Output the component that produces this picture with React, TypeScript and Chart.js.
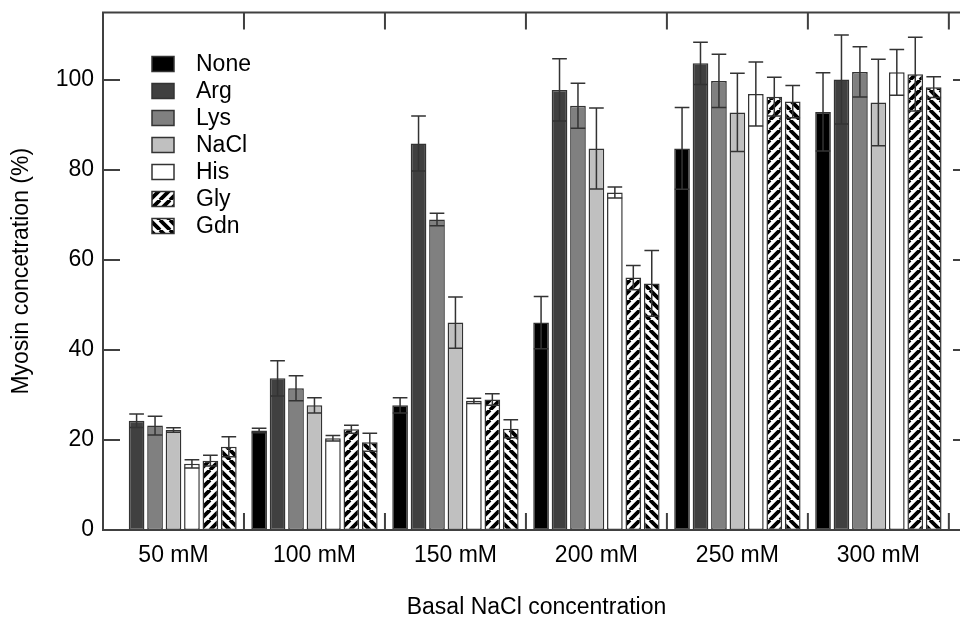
import React, { useEffect, useRef } from 'react';
import { Chart, registerables } from 'chart.js';

Chart.register(...registerables);

const categories = ['50 mM', '100 mM', '150 mM', '200 mM', '250 mM', '300 mM'];
const seriesLabels = ['None', 'Arg', 'Lys', 'NaCl', 'His', 'Gly', 'Gdn'];

const noneVals = [null, 22.1, 27.7, 46.1, 84.8, 92.9];
const noneErr = [null, 0.5, 1.7, 5.8, 9.1, 8.7];
const argVals = [24.3, 33.7, 85.9, 97.8, 103.7, 100.1];
const argErr = [1.5, 3.9, 6.1, 6.9, 4.7, 9.9];
const lysVals = [23.2, 31.5, 69.0, 94.3, 99.8, 101.8];
const lysErr = [2.1, 2.8, 1.4, 5.0, 5.9, 5.6];
const naclVals = [22.2, 27.7, 46.1, 84.8, 92.8, 95.0];
const naclErr = [0.5, 1.7, 5.7, 9.0, 8.7, 9.6];
const hisVals = [14.7, 20.4, 28.7, 75.0, 96.9, 101.7];
const hisErr = [0.9, 0.6, 0.6, 1.2, 7.1, 5.1];
const glyVals = [15.4, 22.4, 29.0, 56.1, 96.3, 101.3];
const glyErr = [1.2, 0.9, 1.3, 2.7, 4.3, 8.2];
const gdnVals = [18.5, 19.5, 22.5, 54.8, 95.2, 98.4];
const gdnErr = [2.2, 2.0, 2.0, 7.3, 3.6, 2.3];

const allVals = [noneVals, argVals, lysVals, naclVals, hisVals, glyVals, gdnVals];
const allErrs = [noneErr, argErr, lysErr, naclErr, hisErr, glyErr, gdnErr];

const yTicks = [0, 20, 40, 60, 80, 100];
const yMax = 115;

const FONT_FAMILY = '"Liberation Sans", Arial, Helvetica, sans-serif';
const LINE_COLOR = '#404040';

function makeHatch(forward: boolean): CanvasPattern | string {
  const s = 10;
  const c = document.createElement('canvas');
  c.width = s;
  c.height = s;
  const g = c.getContext('2d');
  if (!g) return '#888';
  g.fillStyle = '#ffffff';
  g.fillRect(0, 0, s, s);
  g.strokeStyle = '#000000';
  g.lineWidth = 3.8;
  g.beginPath();
  for (const x0 of [-s, 0, s]) {
    if (forward) {
      g.moveTo(x0, s);
      g.lineTo(x0 + s, 0);
    } else {
      g.moveTo(x0, 0);
      g.lineTo(x0 + s, s);
    }
  }
  g.stroke();
  const p = g.createPattern(c, 'repeat');
  return p || '#888';
}

const errorBarPlugin = {
  id: 'errorBars',
  afterDatasetsDraw(chart: any) {
    const ctx = chart.ctx;
    const yScale = chart.scales.y;
    ctx.save();
    ctx.strokeStyle = '#333333';
    ctx.lineWidth = 1.5;
    chart.data.datasets.forEach((ds: any, di: number) => {
      const meta = chart.getDatasetMeta(di);
      const errs = allErrs[di];
      meta.data.forEach((el: any, j: number) => {
        const v = allVals[di][j];
        const e = errs[j];
        if (v == null || e == null) return;
        const { x, width } = el.getProps(['x', 'width'], true);
        const yHi = yScale.getPixelForValue(v + e);
        const yLo = yScale.getPixelForValue(v - e);
        const half = width / 2 - 0.5;
        ctx.beginPath();
        ctx.moveTo(x, yHi);
        ctx.lineTo(x, yLo);
        ctx.moveTo(x - half, yHi);
        ctx.lineTo(x + half, yHi);
        ctx.moveTo(x - half, yLo);
        ctx.lineTo(x + half, yLo);
        ctx.stroke();
      });
    });
    ctx.restore();
  },
};

const framePlugin = {
  id: 'frame',
  afterDraw(chart: any) {
    const { ctx, chartArea } = chart;
    const { left, right, top, bottom } = chartArea;
    const xs = chart.scales.x;
    const ys = chart.scales.y;
    const tick = 17;
    ctx.save();
    ctx.strokeStyle = LINE_COLOR;
    ctx.lineWidth = 2;
    ctx.beginPath();
    ctx.moveTo(left, top);
    ctx.lineTo(right, top);
    ctx.lineTo(right, bottom);
    ctx.lineTo(left, bottom);
    ctx.closePath();
    ctx.stroke();
    ctx.beginPath();
    yTicks.forEach((v) => {
      const y = ys.getPixelForValue(v);
      ctx.moveTo(left, y);
      ctx.lineTo(left + tick, y);
      ctx.moveTo(right - tick, y);
      ctx.lineTo(right, y);
    });
    categories.forEach((_, i) => {
      const x = xs.getPixelForValue(i + 0.5);
      ctx.moveTo(x, top);
      ctx.lineTo(x, top + tick);
      ctx.moveTo(x, bottom - tick);
      ctx.lineTo(x, bottom);
    });
    ctx.stroke();

    // legend
    const lx = 152;
    const ly0 = 64;
    const step = 27;
    ctx.font = `23px ${FONT_FAMILY}`;
    ctx.textBaseline = 'middle';
    ctx.textAlign = 'left';
    chart.data.datasets.forEach((ds: any, i: number) => {
      const cy = ly0 + i * step;
      ctx.fillStyle = ds.backgroundColor;
      ctx.fillRect(lx, cy - 7.5, 22, 15);
      ctx.strokeStyle = '#333333';
      ctx.lineWidth = 1.5;
      ctx.strokeRect(lx, cy - 7.5, 22, 15);
      ctx.fillStyle = '#000000';
      ctx.fillText(ds.label, lx + 44, cy + 1);
    });
    ctx.restore();
  },
};

export default function App() {
  const canvasRef = useRef<HTMLCanvasElement | null>(null);

  useEffect(() => {
    if (!canvasRef.current) return;
    const fills: (string | CanvasPattern)[] = [
      '#000000',
      '#404040',
      '#808080',
      '#c0c0c0',
      '#ffffff',
      makeHatch(true),
      makeHatch(false),
    ];
    const font = { family: FONT_FAMILY, size: 23 };
    const chart = new Chart(canvasRef.current, {
      type: 'bar',
      data: {
        datasets: seriesLabels.map((label, di) => ({
          label,
          data: allVals[di].map((v, i) => ({ x: i, y: v })),
          backgroundColor: fills[di],
          borderColor: '#333333',
          borderWidth: 1.5,
          borderSkipped: false,
          categoryPercentage: 0.916,
          barPercentage: 0.85,
        })),
      } as any,
      options: {
        animation: false,
        responsive: true,
        maintainAspectRatio: false,
        layout: { padding: { top: 12.5, right: 10, left: 0, bottom: 0 } },
        plugins: {
          legend: { display: false },
          tooltip: { enabled: false },
        },
        scales: {
          x: {
            type: 'linear',
            offset: false,
            min: -0.5,
            max: categories.length - 0.35,
            grid: { display: false, drawTicks: false, offset: false },
            border: { display: false },
            afterBuildTicks: (s: any) => {
              s.ticks = categories.map((_, i) => ({ value: i }));
            },
            afterFit: (s: any) => {
              s.height = 89;
              s.paddingLeft = 0;
              s.paddingRight = 0;
            },
            ticks: {
              callback: (v: any) => categories[v] ?? '',
              font,
              color: '#000000',
              padding: 12,
              maxRotation: 0,
              autoSkip: false,
            },
            title: {
              display: true,
              text: 'Basal NaCl concentration',
              font: { ...font, lineHeight: 1 },
              color: '#000000',
              padding: { top: 0, bottom: 0 },
            },
          },
          y: {
            min: 0,
            max: yMax,
            grid: { display: false, drawTicks: false },
            border: { display: false },
            afterBuildTicks: (s: any) => {
              s.ticks = yTicks.map((v) => ({ value: v }));
            },
            afterFit: (s: any) => {
              s.width = 103;
              s.paddingTop = 0;
              s.paddingBottom = 0;
            },
            ticks: { font, color: '#000000', padding: 9 },
            title: {
              display: true,
              text: 'Myosin concetration (%)',
              font,
              color: '#000000',
              padding: { top: 8, bottom: 0 },
            },
          },
        },
      } as any,
      plugins: [errorBarPlugin, framePlugin],
    });
    return () => chart.destroy();
  }, []);

  return (
    <div
      style={{
        position: 'absolute',
        left: 0,
        top: 0,
        width: 960,
        height: 619,
        overflow: 'hidden',
        background: '#ffffff',
      }}
    >
      <div style={{ position: 'relative', width: 980, height: 619 }}>
        <canvas ref={canvasRef} />
      </div>
    </div>
  );
}
